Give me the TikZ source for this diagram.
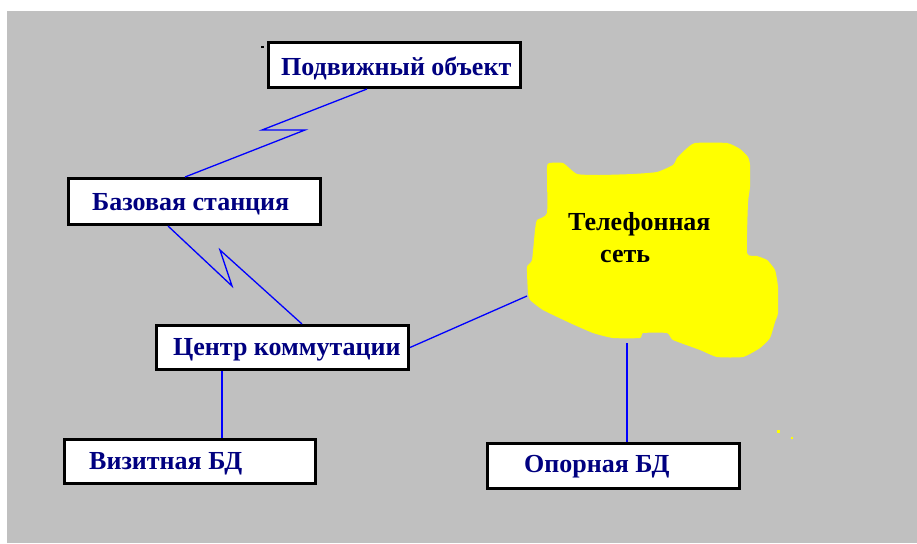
\documentclass[tikz,border=0pt]{standalone}
\usepackage{fontspec}
\setmainfont{Liberation Serif}
\usetikzlibrary{calc}
\definecolor{bggray}{RGB}{192,192,192}
\definecolor{navytext}{RGB}{0,0,128}
\definecolor{linkblue}{RGB}{0,0,255}
\definecolor{cloudyellow}{RGB}{255,255,0}
\begin{document}
\begin{tikzpicture}[x=1pt,y=-1pt,
  boxnode/.style={draw=black,line width=3pt,fill=white,inner sep=0pt,rectangle},
  boxtext/.style={anchor=base west,inner sep=0pt,text=navytext,font=\fontsize{26}{30}\selectfont\bfseries},
  cloudtext/.style={anchor=base west,inner sep=0pt,text=black,font=\fontsize{26}{30}\selectfont\bfseries},
  link/.style={draw=linkblue,line width=1.3pt}]
\useasboundingbox (0,0) rectangle (917,543);
\fill[bggray] (7,11) rectangle (917,543);
% cloud
\fill[cloudyellow] plot[smooth cycle,tension=0.3] coordinates {
(547,167)(550,163)(563,163)(577,174)(600,175)(633,174)(657,172)(673,165)(677,158)(685,150)(695,143)(727,143)(740,149)(748,157)(750,165)(750,187)(748,203)(747,253)(757,256)(767,260)(775,270)(778,287)(778,313)(775,322)(770,338)(760,348)(743,357)(717,357)(700,350)(673,340)(667,333)(643,333)(640,338)(613,338)(593,333)(570,323)(543,310)(530,300)(528,293)(527,267)(532,260)(535,230)(537,220)(547,213)};
\coordinate (cl1) at (527,296);
\coordinate (cl2) at (627,343);
\node[cloudtext] (tel1) at (568,230) {Телефонная};
\node[cloudtext] (tel2) at (600,262) {сеть};
% specks
\fill[cloudyellow] (777,430) rectangle (780,433);
\fill[cloudyellow] (791,437) rectangle (793,439);
\fill[black] (261,46) rectangle (264,48);
% boxes
\node[boxnode,minimum width=252pt,minimum height=45pt] (P) at (394.5,65) {};
\node[boxnode,minimum width=252pt,minimum height=46pt] (B) at (194.5,201.5) {};
\node[boxnode,minimum width=252pt,minimum height=44pt] (C) at (282.5,347.5) {};
\node[boxnode,minimum width=251pt,minimum height=44pt] (V) at (190,461.5) {};
\node[boxnode,minimum width=252pt,minimum height=45pt] (O) at (613.5,466) {};
\node[boxtext] (Pt) at (281,75) {Подвижный объект};
\node[boxtext] (Bt) at (92,210) {Базовая станция};
\node[boxtext] (Ct) at (173,355) {Центр коммутации};
\node[boxtext] (Vt) at (89,469) {Визитная БД};
\node[boxtext] (Ot) at (524,472) {Опорная БД};
% connectors
\coordinate (z1a) at (262,130);
\coordinate (z1b) at (305,130);
\coordinate (z2a) at (232,286);
\coordinate (z2b) at (220,250);
\draw[link] ([xshift=-27.5pt]P.south) -- (z1a) -- (z1b) -- ([xshift=-9.5pt]B.north);
\draw[link] ([xshift=-26.5pt]B.south) -- (z2a) -- (z2b) -- ([xshift=19.5pt]C.north);
\draw[link] (C.east) -- (cl1);
\draw[link] ([xshift=-60.5pt]C.south) -- ([xshift=-60.5pt]C.south |- V.north);
\draw[link] (cl2) -- (cl2 |- O.north);
\end{tikzpicture}
\end{document}
